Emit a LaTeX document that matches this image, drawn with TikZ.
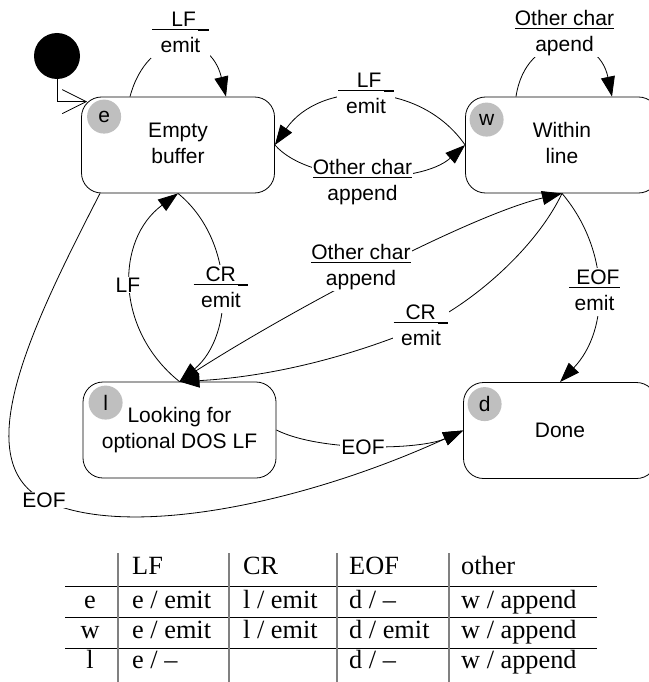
\documentclass[tikz,border=0pt]{standalone}
\usepackage{fontspec}
\setmainfont{Liberation Sans}
\newfontfamily\tabfont{Liberation Serif}
\usetikzlibrary{arrows.meta}
\pgfdeclarelayer{bgl}
\pgfdeclarelayer{edges}
\pgfsetlayers{bgl,edges,main}
\newsavebox\ulbox
\newcommand\ulx[1]{\sbox\ulbox{#1}\rlap{\rule[-3.3pt]{\wd\ulbox}{0.8pt}}\usebox\ulbox}
\newcommand\usc{\rule[-4.6pt]{0.5em}{2pt}}
\newcommand\stt{\rule[-5pt]{0pt}{21pt}}
\newcommand\dfont{\fontsize{21}{25.5}\selectfont}
\newcommand\tfont{\tabfont\fontsize{26.3}{30}\selectfont}
\begin{document}
\begin{tikzpicture}[x=1pt,y=-1pt,
  state/.style={draw, line width=0.8pt, rounded corners=20pt, minimum width=193pt, minimum height=96pt, inner sep=0pt, align=center, font=\dfont},
  scirc/.style={circle, fill=gray!50, minimum size=34pt, inner sep=0pt, font=\dfont},
  lbl/.style={fill=white, inner sep=1pt, align=center, font=\dfont},
  tr/.style={line width=0.8pt, -{Triangle[length=20pt,width=14pt]}},
  initarr/.style={line width=0.8pt, -{Straight Barb[length=24pt,width=24pt,line join=miter]}},
  dot/.style={circle, fill=black, minimum size=46pt, inner sep=0pt},
  tcell/.style={font=\tfont, inner sep=0pt},
  hline/.style={line width=0.9pt},
  vline/.style={line width=1.2pt, draw=gray}]
\useasboundingbox (0,0) rectangle (648,682);
\begin{pgfonlayer}{bgl}\fill[white] (0,0) rectangle (648,682);\end{pgfonlayer}

% states
\node[dot] (init) at (57,56) {};
\node[state] (e) at (178,145) {Empty\stt\\buffer\stt};
\node[state] (w) at (562,145) {Within\stt\\line\stt};
\node[state] (l) at (179.5,430) {Looking for\stt\\optional DOS LF\stt};
\node[state] (d) at (560,430.5) {Done};
\node[scirc] (ec) at ([shift={(23pt,-20pt)}]e.north west) {e};
\node[scirc] (wc) at ([shift={(21.5pt,-23pt)}]w.north west) {w};
\node[scirc] (lc) at ([shift={(23pt,-21pt)}]l.north west) {l};
\node[scirc] (dc) at ([shift={(21.5pt,-22pt)}]d.north west) {d};

% labels
\node[lbl] (lfE) at (180.5,34) {\ulx{\hspace*{0.9em}LF\hspace*{0.1em}\usc}\stt\\emit\stt};
\node[lbl] (lfW) at (366,95) {\ulx{\hspace*{0.9em}LF\hspace*{0.1em}\usc}\stt\\emit\stt};
\node[lbl] (ocE) at (362.5,182) {\ulx{Other char}\stt\\append\stt};
\node[lbl] (ocW) at (564.5,33) {\ulx{Other char}\stt\\apend\stt};
\node[lbl] (crE) at (221,289) {\ulx{\hspace*{0.57em}CR\hspace*{0.1em}\usc}\stt\\emit\stt};
\node[lbl] (lfL) at (128,285) {LF};
\node[lbl] (eofW) at (594.5,292) {\ulx{\hspace*{0.33em}EOF}\stt\\emit\stt};
\node[lbl] (ocL) at (361,267) {\ulx{Other char}\stt\\append\stt};
\node[lbl] (crW) at (421,327) {\ulx{\hspace*{0.57em}CR\hspace*{0.1em}\usc}\stt\\emit\stt};
\node[lbl] (eofL) at (363,447) {EOF};
\node[lbl] (eofE) at (44,500) {EOF};

% transitions
\begin{pgfonlayer}{edges}
\draw[initarr] (init) |- ([shift={(6pt,-5pt)}]e.north west);
\draw[tr] ([xshift=-48pt]e.north) .. controls (148,30) and (210,30) .. ([xshift=48pt]e.north);
\draw[tr] (w.west) .. controls (420,80) and (320,80) .. (e.east);
\draw[tr] (e.east) .. controls (310,185) and (420,185) .. (w.west);
\draw[tr] ([xshift=-46pt]w.north) .. controls (526,30) and (598,30) .. ([xshift=50pt]w.north);
\draw[tr] (l.north) .. controls (115,330) and (115,240) .. (e.south);
\draw[tr] (e.south) .. controls (235,240) and (235,335) .. (l.north);
\draw[tr] (l.north) .. controls (280,315) and (470,215) .. (w.south);
\draw[tr] (w.south) .. controls (535,250) and (470,305) .. (crW.center) .. controls (330,365) and (250,378) .. (l.north);
\draw[tr] (w.south) .. controls (610,250) and (610,330) .. (d.north);
\draw[tr] (l.east) .. controls (320,452) and (420,450) .. (d.west);
\draw[tr] ([xshift=-78pt]e.south) .. controls (35,320) and (-35,460) .. (eofE.center) .. controls (124,540) and (300,505) .. (d.west);
\end{pgfonlayer}

% table
\draw[hline] (65,586) -- (597,586);
\draw[hline] (65,617) -- (597,617);
\draw[hline] (65,648) -- (597,648);
\draw[vline] (118,553) -- (118,682);
\draw[vline] (229,553) -- (229,682);
\draw[vline] (337,553) -- (337,682);
\draw[vline] (449,553) -- (449,682);

\node[tcell, anchor=base west] (h1) at (132,574) {LF};
\node[tcell, anchor=base west] (h2) at (243,574) {CR};
\node[tcell, anchor=base west] (h3) at (349,574) {EOF};
\node[tcell, anchor=base west] (h4) at (461,574) {other};

\node[tcell, anchor=base] (re) at (90,608) {e};
\node[tcell, anchor=base west] (e1) at (132,608) {e / emit};
\node[tcell, anchor=base west] (e2) at (243,608) {l / emit};
\node[tcell, anchor=base west] (e3) at (349,608) {d / –};
\node[tcell, anchor=base west] (e4) at (461,608) {w / append};

\node[tcell, anchor=base] (rw) at (90,638) {w};
\node[tcell, anchor=base west] (w1) at (132,638) {e / emit};
\node[tcell, anchor=base west] (w2) at (243,638) {l / emit};
\node[tcell, anchor=base west] (w3) at (349,638) {d / emit};
\node[tcell, anchor=base west] (w4) at (461,638) {w / append};

\node[tcell, anchor=base] (rl) at (90,668) {l};
\node[tcell, anchor=base west] (l1) at (132,668) {e / –};
\node[tcell, anchor=base west] (l3) at (349,668) {d / –};
\node[tcell, anchor=base west] (l4) at (461,668) {w / append};
\end{tikzpicture}
\end{document}
